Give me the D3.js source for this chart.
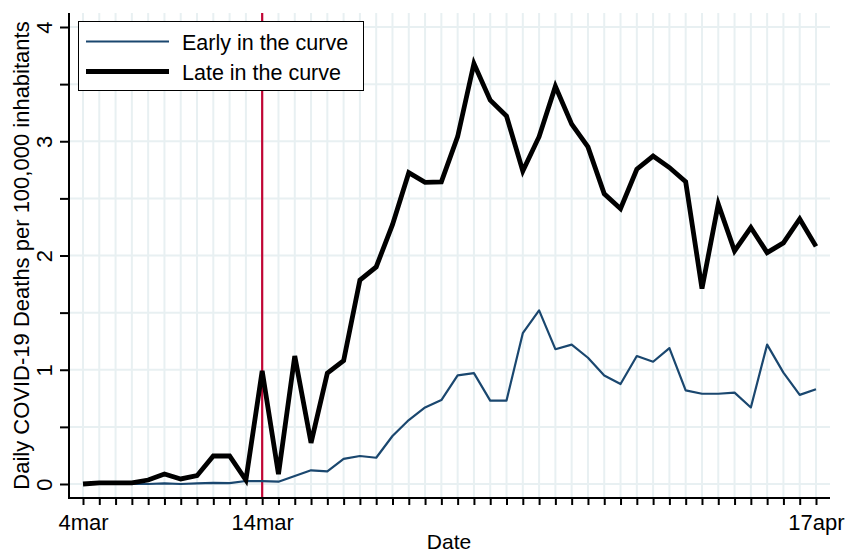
<!DOCTYPE html>
<html>
<head>
<meta charset="utf-8">
<script src="https://cdn.jsdelivr.net/npm/d3@7"></script>
<style>
  html, body { margin: 0; padding: 0; background: #fff; }
  svg { display: block; font-family: "Liberation Sans", Arial, sans-serif; }
</style>
</head>
<body>
<svg id="chart" width="845" height="554"></svg>
<script>
// ---- data ----
const dayIndex = d3.range(0, 46);
const early = [0.0, 0.0, 0.0, 0.0, 0.0, 0.005, 0.0, 0.005, 0.01, 0.008, 0.026,
  0.026, 0.02, 0.07, 0.12, 0.11, 0.22, 0.245, 0.23, 0.42, 0.56, 0.67, 0.735,
  0.95, 0.97, 0.73, 0.73, 1.32, 1.52, 1.18, 1.22, 1.105, 0.95, 0.875, 1.12,
  1.07, 1.19, 0.82, 0.79, 0.79, 0.80, 0.67, 1.22, 0.975, 0.78, 0.83];
const late = [0.0, 0.01, 0.01, 0.01, 0.035, 0.087, 0.044, 0.073, 0.245, 0.245, 0.035,
  0.99, 0.087, 1.12, 0.36, 0.97, 1.08, 1.785, 1.90, 2.27, 2.725, 2.64, 2.645,
  3.04, 3.68, 3.36, 3.22, 2.74, 3.04, 3.48, 3.15, 2.95, 2.54, 2.41, 2.755,
  2.87, 2.77, 2.645, 1.71, 2.45, 2.04, 2.245, 2.025, 2.11, 2.32, 2.08];
const seriesNames = ["Early in the curve", "Late in the curve"];
const xTickLabels = [{i: 0, label: "4mar"}, {i: 11, label: "14mar"}, {i: 45, label: "17apr"}];
const yTicks = [0, 0.5, 1, 1.5, 2, 2.5, 3, 3.5, 4];
const markerDay = 11;
const yTitle = "Daily COVID-19 Deaths per 100,000 inhabitants";
const xTitle = "Date";

// ---- layout ----
const svg = d3.select("#chart");
const plotL = 69, plotR = 830, plotT = 13, plotB = 498;
const x = d3.scaleLinear().domain([0, 45]).range([83, 816]);
const y = d3.scaleLinear().domain([0, 4]).range([484, 27]);
const gridColor = "#e8f0f2";

// grid
svg.append("g").selectAll("line.hg").data(yTicks).join("line")
  .attr("x1", plotL).attr("x2", plotR)
  .attr("y1", d => y(d)).attr("y2", d => y(d))
  .attr("stroke", gridColor).attr("stroke-width", 2);
svg.append("g").selectAll("line.vg").data(dayIndex).join("line")
  .attr("x1", d => x(d)).attr("x2", d => x(d))
  .attr("y1", plotT).attr("y2", plotB)
  .attr("stroke", gridColor).attr("stroke-width", 2);

// marker line
svg.append("line")
  .attr("x1", x(markerDay)).attr("x2", x(markerDay))
  .attr("y1", plotT).attr("y2", plotB)
  .attr("stroke", "#c10534").attr("stroke-width", 2.2);

// lines
const lineGen = d3.line().x((d, i) => x(dayIndex[i])).y(d => y(d));
svg.append("path").datum(early)
  .attr("d", lineGen).attr("fill", "none")
  .attr("stroke", "#1a476f").attr("stroke-width", 2.2)
  .attr("stroke-linejoin", "round");
svg.append("path").datum(late)
  .attr("d", lineGen).attr("fill", "none")
  .attr("stroke", "#000").attr("stroke-width", 4.8)
  .attr("stroke-linejoin", "miter");

// y axis
const yAxis = d3.axisLeft(y).tickValues(yTicks).tickSize(9).tickPadding(0)
  .tickFormat(d => Number.isInteger(d) ? d3.format("d")(d) : "");
const gy = svg.append("g").attr("transform", `translate(${plotL},0)`).call(yAxis);
gy.select(".domain").remove();
gy.selectAll(".tick line").attr("stroke", "#000").attr("stroke-width", 2);
gy.selectAll(".tick text")
  .attr("font-size", 22).attr("fill", "#000")
  .attr("text-anchor", "middle").attr("dy", null)
  .attr("x", null)
  .attr("transform", "translate(-25,0) rotate(-90)")
  .attr("dominant-baseline", "central");
svg.append("line").attr("x1", plotL).attr("x2", plotL)
  .attr("y1", plotT).attr("y2", plotB + 1)
  .attr("stroke", "#000").attr("stroke-width", 2);

// x axis
const xAxis = d3.axisBottom(x).tickValues(dayIndex).tickSize(7).tickPadding(9)
  .tickFormat(d => { const t = xTickLabels.find(e => e.i === d); return t ? t.label : ""; });
const gx = svg.append("g").attr("transform", `translate(0,${plotB})`).call(xAxis);
gx.select(".domain").remove();
gx.selectAll(".tick line").attr("stroke", "#000").attr("stroke-width", 2);
gx.selectAll(".tick text").attr("font-size", 22).attr("fill", "#000");
svg.append("line").attr("x1", plotL - 1).attr("x2", plotR)
  .attr("y1", plotB).attr("y2", plotB)
  .attr("stroke", "#000").attr("stroke-width", 2);

// titles
svg.append("text").attr("x", 449).attr("y", 549)
  .attr("text-anchor", "middle").attr("font-size", 21).attr("fill", "#000")
  .text(xTitle);
svg.append("text")
  .attr("transform", `translate(21,${(plotT + plotB) / 2}) rotate(-90)`)
  .attr("text-anchor", "middle").attr("dominant-baseline", "central")
  .attr("font-size", 22).attr("fill", "#000")
  .text(yTitle);

// legend
const lg = svg.append("g");
lg.append("rect").attr("x", 78.5).attr("y", 21.5).attr("width", 285).attr("height", 69)
  .attr("fill", "#fff").attr("stroke", "#000").attr("stroke-width", 1);
const legendItems = [
  {name: seriesNames[0], color: "#1a476f", w: 2.2, cy: 41.5},
  {name: seriesNames[1], color: "#000", w: 5, cy: 71.5}
];
legendItems.forEach(it => {
  lg.append("line").attr("x1", 86).attr("x2", 169).attr("y1", it.cy).attr("y2", it.cy)
    .attr("stroke", it.color).attr("stroke-width", it.w);
  lg.append("text").attr("x", 182).attr("y", it.cy + 1)
    .attr("dominant-baseline", "central").attr("font-size", 21.5).attr("fill", "#000")
    .text(it.name);
});
</script>
</body>
</html>
